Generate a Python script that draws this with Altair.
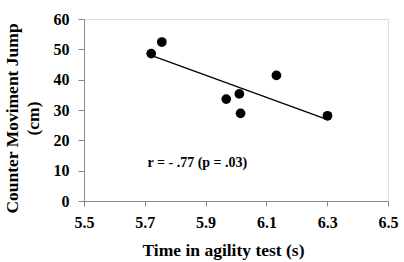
import altair as alt
import pandas as pd

agility_time = [5.721, 5.756, 5.968, 6.011, 6.015, 6.133, 6.301]
cmj = [48.6, 52.4, 33.6, 35.3, 28.9, 41.4, 28.1]
x_ticks = [5.5, 5.7, 5.9, 6.1, 6.3, 6.5]
y_ticks = [0, 10, 20, 30, 40, 50, 60]
note_text = ["r = - .77 (p = .03)"]
note_x = [5.709]
note_y = [12.5]

df = pd.DataFrame({"t": agility_time, "cmj": cmj})
note_df = pd.DataFrame({"label": note_text, "x": note_x, "y": note_y})

FONT = "Liberation Serif"

xscale = alt.Scale(domain=[5.5, 6.5], nice=False, zero=False)
yscale = alt.Scale(domain=[0, 60], nice=False)

xaxis = alt.Axis(
    values=x_ticks, format=".1f", title="Time in agility test (s)", grid=False,
    domainColor="#888888", tickColor="#888888", tickSize=5,
    labelFont=FONT, labelFontSize=16, labelFontWeight="bold", labelColor="black",
    labelPadding=8, labelFlush=False, labelOverlap=False,
    titleFont=FONT, titleFontSize=17.5, titleFontWeight="bold", titleColor="black",
    titlePadding=11, titleX=139, titleAlign="center",
)
yaxis = alt.Axis(
    values=y_ticks, tickCount=7, title=["Counter Moviment Jump", "(cm)"], grid=False,
    domainColor="#888888", tickColor="#888888", tickSize=6,
    labelFont=FONT, labelFontSize=16, labelFontWeight="bold", labelColor="black",
    labelPadding=9, labelOverlap=False,
    titleFont=FONT, titleFontSize=17.5, titleFontWeight="bold", titleColor="black",
    titleAngle=-90, titleAlign="center", titleBaseline="middle",
    titleX=-72, titleY=99, titleLineHeight=21,
)

X = alt.X("t:Q", scale=xscale, axis=xaxis)
Y = alt.Y("cmj:Q", scale=yscale, axis=yaxis)

points = alt.Chart(df).mark_circle(size=95, color="black", opacity=1).encode(x=X, y=Y)

line = alt.Chart(df).transform_regression("t", "cmj").mark_line(
    color="black", strokeWidth=1.3
).encode(x=X, y=Y)

note = alt.Chart(note_df).mark_text(
    align="left", baseline="middle", font=FONT, fontSize=14, fontWeight="bold", color="black"
).encode(
    x=alt.X("x:Q", scale=xscale, axis=xaxis),
    y=alt.Y("y:Q", scale=yscale, axis=yaxis),
    text="label:N",
)

chart = alt.layer(line, points, note).properties(
    width=304, height=182,
    autosize=alt.AutoSizeParams(type="none"),
    padding={"left": 84, "top": 19, "right": 16, "bottom": 61},
).configure_view(stroke=None).configure(background="white")

chart.save("out.html", embed_options={"renderer": "svg", "actions": False})
